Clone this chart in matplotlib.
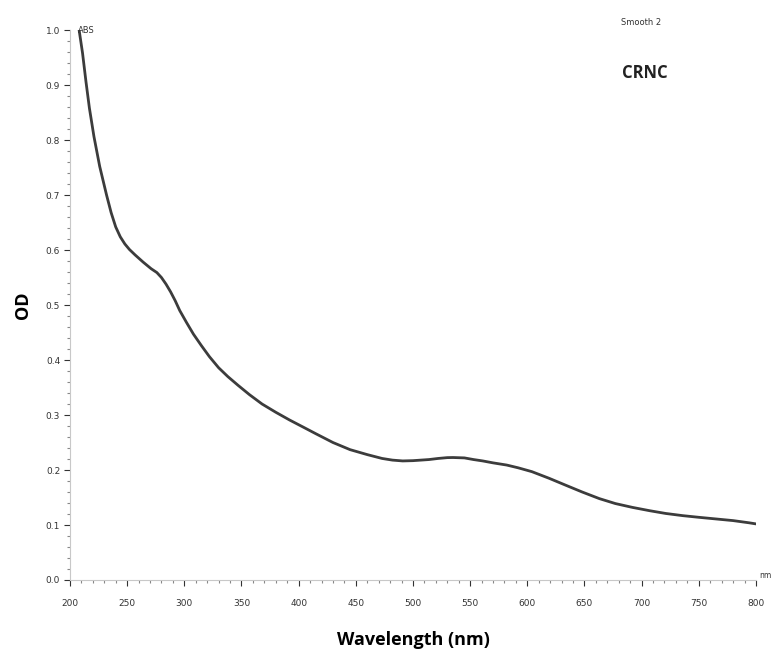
import numpy as np
from matplotlib import pyplot as plt
from matplotlib.ticker import MultipleLocator

# Absorbance spectrum
wavelength = [208, 211, 214, 217, 221, 226, 232, 236, 240, 244, 248, 252, 257,
              264, 271, 276, 280, 284, 288, 292, 296, 302, 308, 315, 322, 330,
              338, 347, 357, 368, 380, 392, 404, 415, 430, 445, 460, 473, 482,
              491, 500, 507, 514, 522, 530, 535, 545, 553, 561, 570, 582, 592,
              604, 619, 634, 648, 663, 677, 692, 707, 721, 736, 750, 765, 780,
              794, 800]
od = [1.000, 0.958, 0.906, 0.858, 0.806, 0.752, 0.700, 0.668, 0.642, 0.624,
      0.611, 0.601, 0.591, 0.578, 0.566, 0.559, 0.550, 0.538, 0.524, 0.508,
      0.490, 0.468, 0.447, 0.426, 0.406, 0.386, 0.370, 0.354, 0.337, 0.320,
      0.305, 0.291, 0.278, 0.266, 0.250, 0.237, 0.228, 0.221, 0.218, 0.2165,
      0.217, 0.218, 0.219, 0.221, 0.2225, 0.2227, 0.222, 0.219, 0.2165, 0.213,
      0.209, 0.204, 0.197, 0.185, 0.172, 0.160, 0.148, 0.139, 0.132, 0.126,
      0.121, 0.117, 0.114, 0.111, 0.108, 0.104, 0.102]

x_ticks = [200, 250, 300, 350, 400, 450, 500, 550, 600, 650, 700, 750, 800]
y_ticks = [0.0, 0.1, 0.2, 0.3, 0.4, 0.5, 0.6, 0.7, 0.8, 0.9, 1.0]


def main():
    fig = plt.figure(figsize=(7.74, 6.57), dpi=100)
    ax = fig.add_axes([0.0904, 0.1172, 0.8863, 0.8371])

    ax.plot(wavelength, od, color='#3c3c3c', lw=2.0,
            solid_capstyle='round', solid_joinstyle='round')

    ax.set_xlim(200, 800)
    ax.set_ylim(0, 1.0)

    ax.spines['top'].set_visible(False)
    ax.spines['right'].set_visible(False)
    for side in ('left', 'bottom'):
        ax.spines[side].set_color('#c8c8c8')
        ax.spines[side].set_linewidth(0.8)

    ax.set_xticks(x_ticks)
    ax.set_xticklabels([str(v) for v in x_ticks])
    ax.set_yticks(y_ticks)
    ax.set_yticklabels(['%.1f' % v for v in y_ticks])
    ax.xaxis.set_minor_locator(MultipleLocator(10))
    ax.yaxis.set_minor_locator(MultipleLocator(0.02))

    ax.tick_params(axis='both', which='major', labelsize=6.5, colors='#333333',
                   length=4, width=0.8)
    ax.tick_params(axis='both', which='minor', length=2, width=0.8,
                   colors='#888888')
    ax.tick_params(axis='x', pad=10)
    ax.tick_params(axis='y', pad=3)
    for lbl in ax.get_xticklabels() + ax.get_yticklabels():
        lbl.set_fontfamily('Liberation Sans Narrow')

    ax.set_xlabel('Wavelength (nm)', fontsize=13, fontweight='bold',
                  fontfamily='Open Sans', labelpad=16)
    ax.set_ylabel('OD', fontsize=13, fontweight='bold',
                  fontfamily='Open Sans', labelpad=10)

    ax.text(0.012, 1.0, 'ABS', transform=ax.transAxes, fontsize=6,
            fontfamily='Liberation Sans Narrow', va='center', ha='left',
            color='#333333')
    ax.text(1.005, 0.0, 'nm', transform=ax.transAxes, fontsize=5.5,
            fontfamily='Liberation Sans Narrow', va='bottom', ha='left',
            color='#333333')
    fig.text(0.828, 0.966, 'Smooth 2', fontsize=6,
             fontfamily='Liberation Sans Narrow', ha='center', va='center',
             color='#333333')
    fig.text(0.833, 0.889, 'CRNC', fontsize=12, fontweight='bold',
             fontfamily='Open Sans', ha='center', va='center', color='#222222')

    fig.savefig('out.png', dpi=100)


if __name__ == '__main__':
    main()
